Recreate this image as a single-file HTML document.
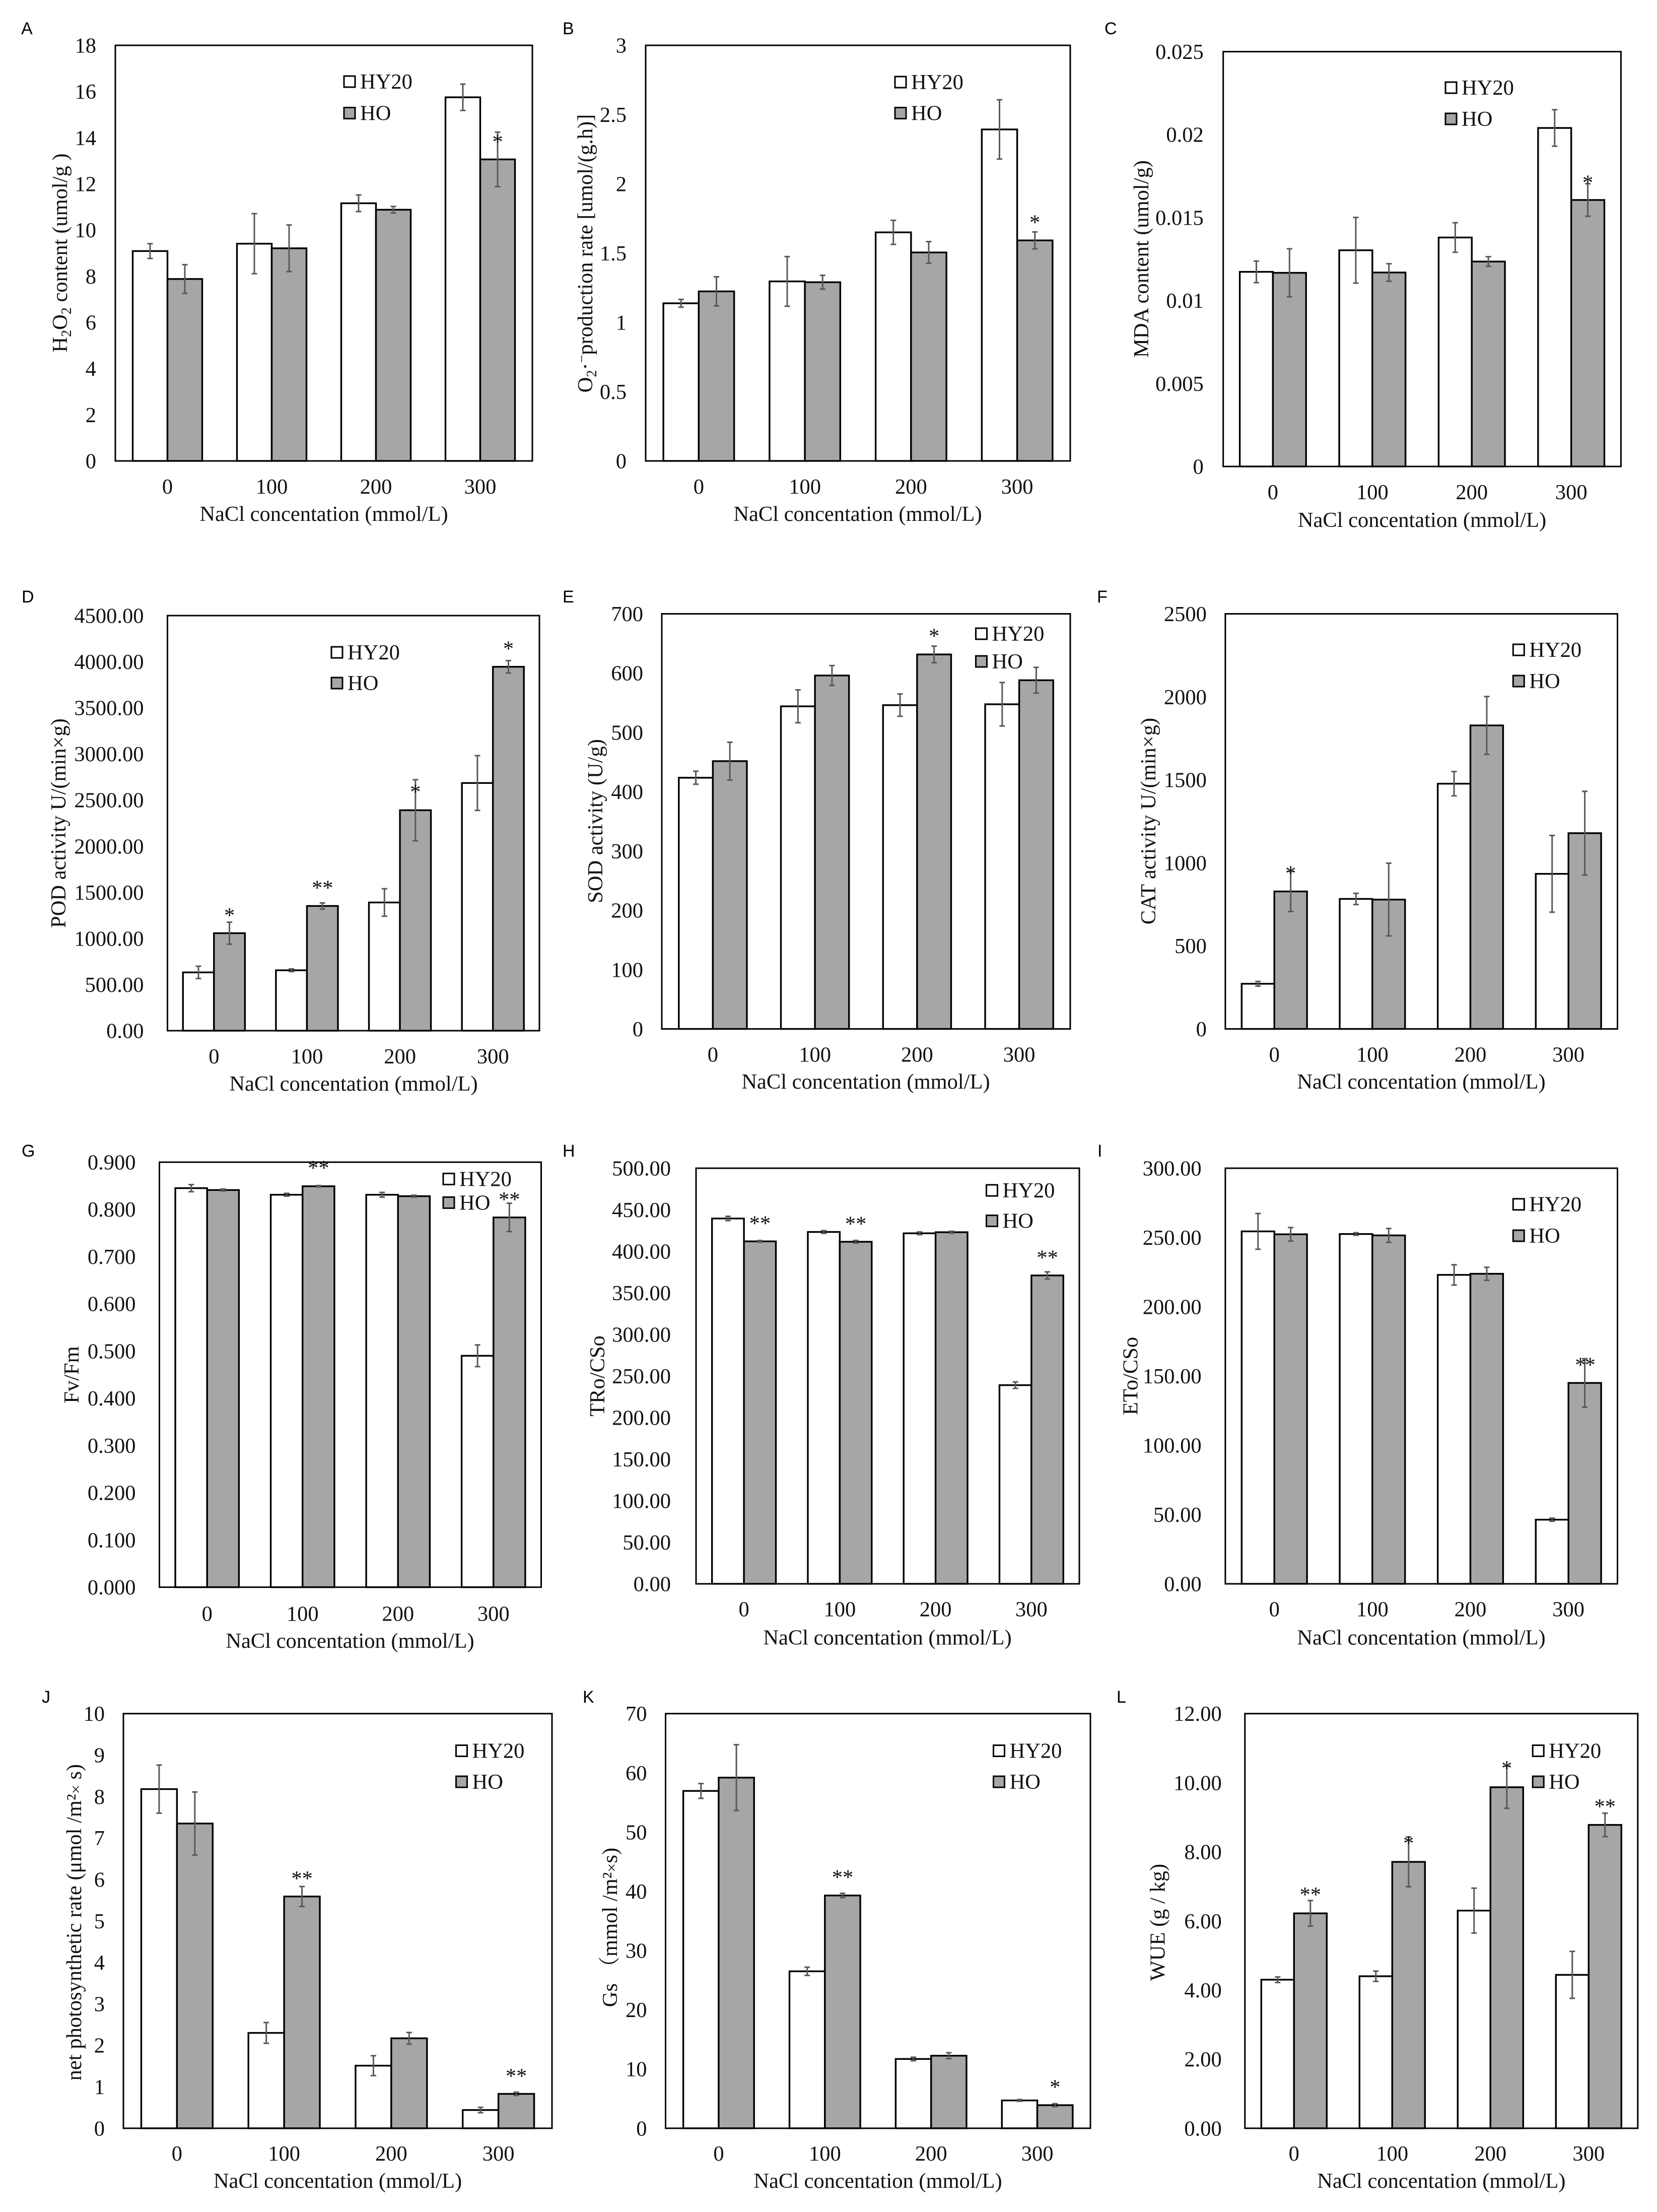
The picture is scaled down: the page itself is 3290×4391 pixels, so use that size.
<!DOCTYPE html>
<html lang="en">
<head>
<meta charset="utf-8">
<title>Physiological responses of HY20 and HO under NaCl concentration</title>
<style>
html,body{margin:0;padding:0;background:#fff;}
svg{display:block;}
text{font-family:"Liberation Serif","Noto Serif CJK SC",serif;font-size:42.5px;fill:#111;}
.letter{font-family:"Liberation Sans",sans-serif;font-size:34px;fill:#000;}
.tiny{font-size:32px;}
.sm{font-size:28px;}
</style>
</head>
<body>
<svg id="figure" xmlns="http://www.w3.org/2000/svg" width="3290" height="4391" viewBox="0 0 3290 4391">
<rect width="3290" height="4391" fill="#fff"/>

<g id="panel-a">
<text class="letter" x="42" y="68">A</text>
<text transform="translate(133,502) rotate(-90)" text-anchor="middle">H<tspan dy="8" class="sm">2</tspan><tspan dy="-8">O</tspan><tspan dy="8" class="sm">2</tspan><tspan dy="-8"> content (umol/g )</tspan></text>
<text x="643" y="1034" text-anchor="middle">NaCl concentation (mmol/L)</text>
</g>
<g id="panel-b">
<text class="letter" x="1117" y="68">B</text>
<text transform="translate(1176,503) rotate(-90)" text-anchor="middle">O<tspan dy="8" class="sm">2</tspan><tspan dy="-8">·</tspan><tspan dy="-12" class="sm">−</tspan><tspan dy="12">production rate [umol/(g.h)]</tspan></text>
<text x="1703" y="1034" text-anchor="middle">NaCl concentation (mmol/L)</text>
</g>
<g id="panel-c">
<text class="letter" x="2193" y="68">C</text>
<text transform="translate(2280,514) rotate(-90)" text-anchor="middle">MDA content (umol/g)</text>
<text x="2823.5" y="1046" text-anchor="middle">NaCl concentation (mmol/L)</text>
</g>
<g id="panel-d">
<text class="letter" x="43" y="1196">D</text>
<text transform="translate(130,1634) rotate(-90)" text-anchor="middle">POD activity U/(min×g)</text>
<text x="702" y="2165" text-anchor="middle">NaCl concentation (mmol/L)</text>
</g>
<g id="panel-e">
<text class="letter" x="1117" y="1196">E</text>
<text transform="translate(1196,1630) rotate(-90)" text-anchor="middle">SOD activity (U/g)</text>
<text x="1719" y="2161" text-anchor="middle">NaCl concentation (mmol/L)</text>
</g>
<g id="panel-f">
<text class="letter" x="2178" y="1196">F</text>
<text transform="translate(2293.8,1630) rotate(-90)" text-anchor="middle">CAT activity U/(min×g)</text>
<text x="2822" y="2161" text-anchor="middle">NaCl concentation (mmol/L)</text>
</g>
<g id="panel-g">
<text class="letter" x="43" y="2296">G</text>
<text transform="translate(156,2729) rotate(-90)" text-anchor="middle">Fv/Fm</text>
<text x="695" y="3271" text-anchor="middle">NaCl concentation (mmol/L)</text>
</g>
<g id="panel-h">
<text class="letter" x="1117" y="2296">H</text>
<text transform="translate(1200,2731.5) rotate(-90)" text-anchor="middle">TRo/CSo</text>
<text x="1762" y="3264.5" text-anchor="middle">NaCl concentation (mmol/L)</text>
</g>
<g id="panel-i">
<text class="letter" x="2179" y="2296">I</text>
<text transform="translate(2258.4,2731.5) rotate(-90)" text-anchor="middle">ETo/CSo</text>
<text x="2822" y="3264.5" text-anchor="middle">NaCl concentation (mmol/L)</text>
</g>
<g id="panel-j">
<text class="letter" x="83" y="3380">J</text>
<text transform="translate(161,3816) rotate(-90)" text-anchor="middle">net photosynthetic rate (μmol /m²<tspan class="tiny">×</tspan> s)</text>
<text x="670.5" y="4343" text-anchor="middle">NaCl concentation (mmol/L)</text>
</g>
<g id="panel-k">
<text class="letter" x="1157" y="3380">K</text>
<text transform="translate(1225,3826) rotate(-90)" text-anchor="middle">Gs （mmol /m²<tspan class="tiny">×</tspan>s)</text>
<text x="1743" y="4343" text-anchor="middle">NaCl concentation (mmol/L)</text>
</g>
<g id="panel-l">
<text class="letter" x="2217" y="3380">L</text>
<text transform="translate(2312.6,3816) rotate(-90)" text-anchor="middle">WUE (g / kg)</text>
<text x="2861.8" y="4343" text-anchor="middle">NaCl concentation (mmol/L)</text>
</g>
</svg>

<script>
const categories = ['0', '100', '200', '300'];
const seriesNames = ['HY20', 'HO'];

const ticksA = ['0', '2', '4', '6', '8', '10', '12', '14', '16', '18'];
const hy20A = [9.09, 9.41, 11.16, 15.75];
const hoA = [7.88, 9.21, 10.88, 13.06];
const hy20ErrA = [0.32, 1.30, 0.36, 0.57];
const hoErrA = [0.62, 1.01, 0.14, 1.18];
const sigA = ['', '', '', '*'];

const ticksB = ['0', '0.5', '1', '1.5', '2', '2.5', '3'];
const hy20B = [1.138, 1.296, 1.65, 2.393];
const hoB = [1.224, 1.29, 1.505, 1.592];
const hy20ErrB = [0.028, 0.179, 0.087, 0.214];
const hoErrB = [0.105, 0.05, 0.078, 0.061];
const sigB = ['', '', '', '*'];

const ticksC = ['0', '0.005', '0.01', '0.015', '0.02', '0.025'];
const hy20C = [0.01173, 0.01303, 0.0138, 0.0204];
const hoC = [0.01167, 0.01169, 0.01235, 0.01606];
const hy20ErrC = [0.00065, 0.00198, 0.00089, 0.0011];
const hoErrC = [0.00145, 0.00053, 0.00029, 0.00098];
const sigC = ['', '', '', '*'];

const ticksD = ['0.00', '500.00', '1000.00', '1500.00', '2000.00', '2500.00', '3000.00', '3500.00', '4000.00', '4500.00'];
const hy20D = [632, 655, 1390, 2685];
const hoD = [1057, 1352, 2390, 3945];
const hy20ErrD = [67, 15, 149, 297];
const hoErrD = [119, 33, 331, 67];
const sigD = ['*', '**', '*', '*'];

const ticksE = ['0', '100', '200', '300', '400', '500', '600', '700'];
const hy20E = [423.6, 544, 546, 547.5];
const hoE = [451.6, 596, 631.5, 588];
const hy20ErrE = [11, 27.7, 18.8, 36.6];
const hoErrE = [31.9, 16.7, 14, 21.7];
const sigE = ['', '', '*', ''];

const ticksF = ['0', '500', '1000', '1500', '2000', '2500'];
const hy20F = [272, 783, 1477, 934];
const hoF = [828, 779, 1828, 1179];
const hy20ErrF = [14, 34, 73, 231];
const hoErrF = [121, 219, 174, 252];
const sigF = ['*', '', '', ''];

const ticksG = ['0.000', '0.100', '0.200', '0.300', '0.400', '0.500', '0.600', '0.700', '0.800', '0.900'];
const hy20G = [0.845, 0.831, 0.831, 0.49];
const hoG = [0.841, 0.849, 0.828, 0.783];
const hy20ErrG = [0.0075, 0.003, 0.005, 0.023];
const hoErrG = [0.002, 0.0015, 0.002, 0.03];
const sigG = ['', '**', '', '**'];

const ticksH = ['0.00', '50.00', '100.00', '150.00', '200.00', '250.00', '300.00', '350.00', '400.00', '450.00', '500.00'];
const hy20H = [439.5, 423.3, 421.7, 239];
const hoH = [412, 411.5, 423, 371];
const hy20ErrH = [2.6, 1.6, 1.6, 3.9];
const hoErrH = [1, 1.6, 1.2, 4.3];
const sigH = ['**', '**', '', '**'];

const ticksI = ['0.00', '50.00', '100.00', '150.00', '200.00', '250.00', '300.00'];
const hy20I = [254.4, 252.5, 223, 46.3];
const hoI = [252.3, 251.5, 223.8, 145];
const hy20ErrI = [12.9, 0.9, 7.3, 1.1];
const hoErrI = [4.9, 5, 4.7, 17.5];
const sigI = ['', '', '', '**'];

const ticksJ = ['0', '1', '2', '3', '4', '5', '6', '7', '8', '9', '10'];
const hy20J = [8.18, 2.30, 1.51, 0.44];
const hoJ = [7.35, 5.59, 2.17, 0.83];
const hy20ErrJ = [0.58, 0.25, 0.24, 0.065];
const hoErrJ = [0.76, 0.24, 0.14, 0.04];
const sigJ = ['', '**', '', '**'];

const ticksK = ['0', '10', '20', '30', '40', '50', '60', '70'];
const hy20K = [56.95, 26.5, 11.7, 4.7];
const hoK = [59.2, 39.3, 12.25, 3.9];
const hy20ErrK = [1.25, 0.7, 0.3, 0.15];
const hoErrK = [5.56, 0.37, 0.5, 0.25];
const sigK = ['', '**', '', '*'];

const ticksL = ['0.00', '2.00', '4.00', '6.00', '8.00', '10.00', '12.00'];
const hy20L = [4.30, 4.40, 6.30, 4.44];
const hoL = [6.22, 7.71, 9.87, 8.78];
const hy20ErrL = [0.08, 0.15, 0.65, 0.68];
const hoErrL = [0.37, 0.72, 0.61, 0.34];
const sigL = ['**', '*', '*', '**'];

const NS = 'http://www.w3.org/2000/svg';
function mk(tag, parent, attrs, txt) {
  const el = document.createElementNS(NS, tag);
  for (const k in attrs) el.setAttribute(k, attrs[k]);
  if (txt !== undefined) el.textContent = txt;
  parent.appendChild(el);
  return el;
}

function drawPanel(p) {
  const g = document.getElementById('panel-' + p.id);
  const max = parseFloat(p.ticks[p.ticks.length - 1]);
  const yScale = v => p.bottom - (v / max) * (p.bottom - p.top);
  const cat = (p.right - p.left) / categories.length;
  const xCenter = i => p.left + cat * (i + 0.5);
  const barW = cat / 3;

  const frame = mk('rect', g, {x: p.left, y: p.top, width: p.right - p.left, height: p.bottom - p.top, fill: 'none', stroke: '#000', 'stroke-width': 3});
  
  

  p.ticks.forEach(label => {
    const t = mk('text', g, {x: p.left - p.tickGap, y: yScale(parseFloat(label)) + 14.5, 'text-anchor': 'end'}, label);
    
    
  });

  categories.forEach((label, i) => {
    const t = mk('text', g, {x: xCenter(i), y: p.bottom + p.xTickDrop, 'text-anchor': 'middle'}, label);
    
    

    const yA = yScale(p.hy20[i]);
    const barA = mk('rect', g, {x: xCenter(i) - barW, y: yA, width: barW, height: p.bottom - yA, fill: '#fff', stroke: '#000', 'stroke-width': 3.4});
    
    

    const yB = yScale(p.ho[i]);
    const barB = mk('rect', g, {x: xCenter(i), y: yB, width: barW, height: p.bottom - yB, fill: '#a6a6a6', stroke: '#000', 'stroke-width': 3.4});
    
    
  });

  categories.forEach((label, i) => {
    const drawErr = (cx, v, e, name) => {
      const y1 = yScale(v + e), y2 = yScale(v - e);
      const d = 'M' + cx + ' ' + y1 + 'V' + y2 + 'M' + (cx - 5.5) + ' ' + y1 + 'H' + (cx + 5.5) + 'M' + (cx - 5.5) + ' ' + y2 + 'H' + (cx + 5.5);
      const err = mk('path', g, {d: d, fill: 'none', stroke: '#595959', 'stroke-width': 3});
      
      
    };
    drawErr(xCenter(i) - barW / 2, p.hy20[i], p.hy20Err[i], 'error-bar-hy20');
    drawErr(xCenter(i) + barW / 2, p.ho[i], p.hoErr[i], 'error-bar-ho');

    if (p.sig[i]) {
      const topY = yScale(p.ho[i] + p.hoErr[i]);
      const star = mk('text', g, {x: xCenter(i) + barW / 2, y: topY + p.starDy[i] + 18, 'text-anchor': 'middle', 'letter-spacing': p.sig[i].length > 1 ? p.starSpace : 0}, p.sig[i]);
      
      
    }
  });

  const c = [p.legend.c1, p.legend.c2];
  const fills = ['#fff', '#a6a6a6'];
  seriesNames.forEach((name, i) => {
    const sw = mk('rect', g, {x: p.legend.x, y: c[i] - 11, width: 22, height: 22, fill: fills[i], stroke: '#000', 'stroke-width': 3});
    
    
    const t = mk('text', g, {x: p.legend.x + 32, y: c[i] + 14}, name);
    
    
  });
}

[
  {id:'a', left:229, right:1057, top:90, bottom:915, tickGap:38, xTickDrop:65, starSpace:0, starDy:[0,0,0,15], legend:{x:683,c1:162,c2:224.5}, ticks:ticksA, hy20:hy20A, ho:hoA, hy20Err:hy20ErrA, hoErr:hoErrA, sig:sigA},
  {id:'b', left:1282, right:2125, top:90, bottom:915, tickGap:38, xTickDrop:65, starSpace:0, starDy:[0,0,0,-23], legend:{x:1777,c1:163,c2:224.5}, ticks:ticksB, hy20:hy20B, ho:hoB, hy20Err:hy20ErrB, hoErr:hoErrB, sig:sigB},
  {id:'c', left:2428.7, right:3218.4, top:102.5, bottom:926, tickGap:39, xTickDrop:65, starSpace:0, starDy:[0,0,0,-6], legend:{x:2870,c1:174,c2:236}, ticks:ticksC, hy20:hy20C, ho:hoC, hy20Err:hy20ErrC, hoErr:hoErrC, sig:sigC},
  {id:'d', left:332.5, right:1071, top:1222, bottom:2046, tickGap:47, xTickDrop:65, starSpace:0, starDy:[-17.5,-34,20,-28], legend:{x:658,c1:1295,c2:1356}, ticks:ticksD, hy20:hy20D, ho:hoD, hy20Err:hy20ErrD, hoErr:hoErrD, sig:sigD},
  {id:'e', left:1314, right:2125, top:1218.5, bottom:2042.5, tickGap:37, xTickDrop:65, starSpace:0, starDy:[0,0,-24,0], legend:{x:1937.5,c1:1258,c2:1313}, ticks:ticksE, hy20:hy20E, ho:hoE, hy20Err:hy20ErrE, hoErr:hoErrE, sig:sigE},
  {id:'f', left:2432.9, right:3211.5, top:1218.5, bottom:2042.5, tickGap:37, xTickDrop:65, starSpace:0, starDy:[0,0,0,0], legend:{x:3004.3,c1:1290,c2:1352}, ticks:ticksF, hy20:hy20F, ho:hoF, hy20Err:hy20ErrF, hoErr:hoErrF, sig:sigF},
  {id:'g', left:316.5, right:1074.5, top:2307, bottom:3150.7, tickGap:47, xTickDrop:66.7, starSpace:0, starDy:[0,-39,0,-11.5], legend:{x:880,c1:2340.4,c2:2387.3}, ticks:ticksG, hy20:hy20G, ho:hoG, hy20Err:hy20ErrG, hoErr:hoErrG, sig:sigG},
  {id:'h', left:1382, right:2143, top:2319, bottom:3144, tickGap:50, xTickDrop:64.5, starSpace:0, starDy:[-38,-37,0,-32.5], legend:{x:1958.5,c1:2363,c2:2423.5}, ticks:ticksH, hy20:hy20H, ho:hoH, hy20Err:hy20ErrH, hoErr:hoErrH, sig:sigH},
  {id:'i', left:2432.9, right:3211.5, top:2319, bottom:3144, tickGap:47.3, xTickDrop:64.5, starSpace:-2, starDy:[0,0,0,8.5], legend:{x:3004.3,c1:2390.7,c2:2453}, ticks:ticksI, hy20:hy20I, ho:hoI, hy20Err:hy20ErrI, hoErr:hoErrI, sig:sigI},
  {id:'j', left:245, right:1096, top:3401.7, bottom:4224.8, tickGap:37, xTickDrop:64, starSpace:0, starDy:[0,-20,0,-36], legend:{x:905.5,c1:3475.4,c2:3537}, ticks:ticksJ, hy20:hy20J, ho:hoJ, hy20Err:hy20ErrJ, hoErr:hoErrJ, sig:sigJ},
  {id:'k', left:1321.5, right:2165, top:3401.7, bottom:4224.8, tickGap:37, xTickDrop:64, starSpace:0, starDy:[0,-36,0,-37], legend:{x:1972.5,c1:3475.4,c2:3537}, ticks:ticksK, hy20:hy20K, ho:hoK, hy20Err:hy20ErrK, hoErr:hoErrK, sig:sigK},
  {id:'l', left:2471.8, right:3251.8, top:3401.7, bottom:4224.8, tickGap:46, xTickDrop:64, starSpace:0, starDy:[-16,8.5,0,-17], legend:{x:3043.2,c1:3475.4,c2:3537}, ticks:ticksL, hy20:hy20L, ho:hoL, hy20Err:hy20ErrL, hoErr:hoErrL, sig:sigL}
].forEach(drawPanel);
</script>
</body>
</html>
